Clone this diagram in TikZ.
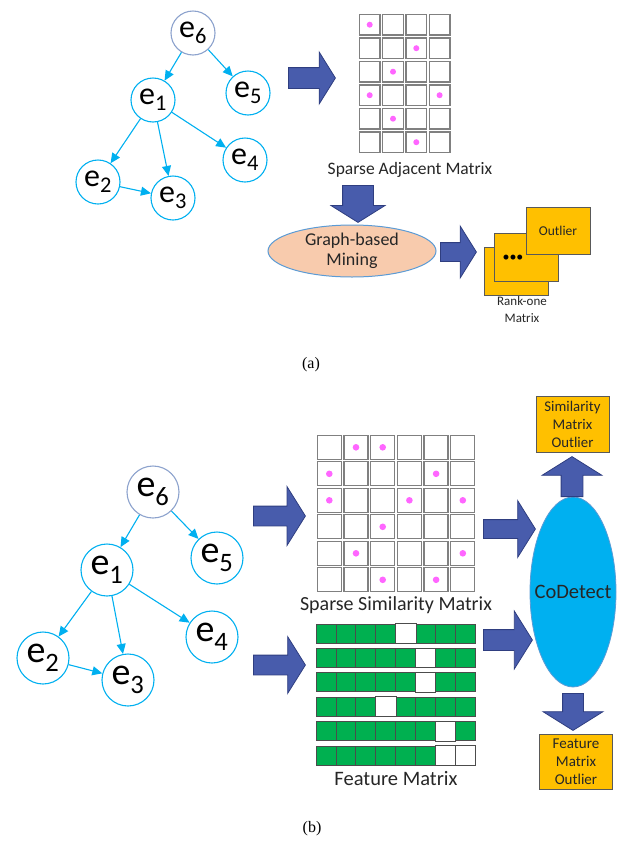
\documentclass[tikz,border=0pt]{standalone}
\usepackage{fontspec}
\setmainfont{Carlito}
\newfontfamily\capfont{Liberation Serif}
\usetikzlibrary{arrows.meta}
\usetikzlibrary{shapes.arrows}
\usetikzlibrary{shapes.geometric}
\definecolor{treecyan}{RGB}{0,176,240}
\definecolor{rootring}{RGB}{140,162,205}
\definecolor{bigblue}{RGB}{72,92,172}
\definecolor{bigedge}{RGB}{47,62,128}
\definecolor{dotpink}{RGB}{255,102,255}
\definecolor{gold}{RGB}{255,192,0}
\definecolor{peach}{RGB}{248,203,173}
\definecolor{ringblue}{RGB}{91,155,213}
\definecolor{featgreen}{RGB}{0,176,80}
\definecolor{textgray}{RGB}{38,38,38}
\newcommand{\ev}[1]{e\textsubscript{#1}}
\tikzset{
vertex/.style={shape=circle, draw=treecyan, line width=1.1pt, fill=white, inner sep=0pt},
small vertex/.style={vertex, minimum size=44, font=\fontsize{32}{34}\selectfont},
big vertex/.style={vertex, minimum size=52, font=\fontsize{38}{40}\selectfont},
edge/.style={draw=treecyan, line width=1.1pt, -{Triangle[length=10pt,width=9pt]}},
blockarrow/.style={single arrow, draw=bigedge, fill=bigblue, line width=0.8pt,
    inner xsep=0pt, single arrow tip angle=116, anchor=tail},
downarrow/.style={blockarrow, inner ysep=0pt, shape border rotate=270},
uparrow/.style={blockarrow, inner ysep=0pt, shape border rotate=90},
cell/.style={shape=rectangle, draw=gray, line width=1.3pt, fill=white, inner sep=0pt},
fcell/.style={shape=rectangle, draw=gray!60!black, line width=0.8pt, fill=featgreen,
    inner sep=0pt, minimum width=19.9, minimum height=19},
goldbox/.style={shape=rectangle, draw=gray!70!black, line width=0.9pt, fill=gold,
    inner sep=1pt, align=center, text=textgray},
caption/.style={text=textgray}}

\begin{document}
\begin{tikzpicture}[x=1pt, y=-1pt]
\useasboundingbox (0,0) rectangle (624,844);

    % (a): tree, adjacency matrix and graph-based mining
    \node[small vertex, draw=rootring] (a6) at (193,33) {\ev{6}};
    \node[small vertex] (a5) at (248,93) {\ev{5}};
    \node[small vertex] (a1) at (153,100) {\ev{1}};
    \node[small vertex] (a4) at (245,160) {\ev{4}};
    \node[small vertex] (a2) at (98,182) {\ev{2}};
    \node[small vertex] (a3) at (173,198) {\ev{3}};

    \draw[edge] (a6) -- (a1);
    \draw[edge] (a6) -- (a5);
    \draw[edge] (a1) -- (a2);
    \draw[edge] (a1) -- (a3);
    \draw[edge] (a1) -- (a4);
    \draw[edge] (a2) -- (a3);

    \node[blockarrow, minimum height=47, inner ysep=10, single arrow head extend=15.5] (ar1) at (288,78) {};

    \foreach \r in {1,...,6}
        \foreach \c in {1,...,4}
            \node[cell, minimum size=20.5] (sa-\r-\c) at ({369.7+23.3*(\c-1)},{24.7+23.5*(\r-1)}) {};
    \foreach \r/\c in {1/1,2/3,3/2,4/1,4/4,5/2,6/3}
        \fill[dotpink] (sa-\r-\c) circle (3pt);
    \node[caption, font=\fontsize{17.5}{19}\selectfont] (salab) at (410,170) {Sparse Adjacent Matrix};

    \node[downarrow, minimum height=37, inner xsep=15, single arrow head extend=11.5] (ar2) at (358,185) {};
    \node[ellipse, draw=ringblue, line width=1pt, fill=peach, minimum width=168, minimum height=52,
        inner sep=0pt, align=center, font=\fontsize{18}{20}\selectfont, text=textgray] (gm) at (352,251) {Graph-based\\Mining};
    \node[blockarrow, minimum height=36, inner ysep=9, single arrow head extend=16.5] (ar3) at (440,252) {};

    \node[goldbox, minimum width=64, minimum height=48] (rk1) at (516,271) {};
    \node[goldbox, minimum width=64, minimum height=48] (rk2) at (526,257) {};
    \node[goldbox, minimum width=64, minimum height=47, font=\fontsize{13.5}{15}\selectfont] (rk3) at (558,230.5) {Outlier};
    \node[inner sep=0pt] (ellip) at (513,258) {\fontsize{14}{14}\selectfont\textbullet\textbullet\textbullet};
    \node[align=center, text=textgray, font=\fontsize{13}{17}\selectfont] (rklab) at (522,310) {Rank-one\\Matrix};

    \node[font=\capfont\fontsize{16}{18}\selectfont] (capa) at (311,365) {(a)};

    % (b): tree, similarity and feature matrices, CoDetect
    \node[big vertex, draw=rootring] (b6) at (153,492) {\ev{6}};
    \node[big vertex] (b5) at (217,558) {\ev{5}};
    \node[big vertex] (b1) at (107,570) {\ev{1}};
    \node[big vertex] (b4) at (212,637) {\ev{4}};
    \node[big vertex] (b2) at (43,658) {\ev{2}};
    \node[big vertex] (b3) at (128,680) {\ev{3}};

    \draw[edge] (b6) -- (b1);
    \draw[edge] (b6) -- (b5);
    \draw[edge] (b1) -- (b2);
    \draw[edge] (b1) -- (b3);
    \draw[edge] (b1) -- (b4);
    \draw[edge] (b2) -- (b3);

    \node[blockarrow, minimum height=52, inner ysep=9.5, single arrow head extend=19.5] (br1) at (253,516) {};
    \node[blockarrow, minimum height=52, inner ysep=9.5, single arrow head extend=18.5] (br2) at (253,665) {};

    \foreach \r in {1,...,6}
        \foreach \c in {1,...,6}
            \node[cell, minimum size=24] (ss-\r-\c) at ({329.3+26.7*(\c-1)},{447.3+26.5*(\r-1)}) {};
    \foreach \r/\c in {1/2,1/3,2/1,2/5,3/1,3/4,3/6,4/3,5/2,5/6,6/3,6/5}
        \fill[dotpink] (ss-\r-\c) circle (3.3pt);
    \node[caption, font=\fontsize{20}{22}\selectfont] (sslab) at (396,605) {Sparse Similarity Matrix};

    \foreach \r in {1,...,6}
        \foreach \c in {1,...,8}
            \node[fcell] (fm-\r-\c) at ({326+19.9*(\c-1)},{633.5+24.4*(\r-1)}) {};
    \foreach \r/\c in {1/5,2/6,3/6,4/4,5/7,6/7,6/8}
        \draw[gray!60!black, line width=0.8pt, fill=white] (fm-\r-\c.south west) rectangle (fm-\r-\c.north east);
    \node[caption, font=\fontsize{20.5}{22}\selectfont] (fmlab) at (396,779) {Feature Matrix};

    \node[blockarrow, minimum height=52, inner ysep=9, single arrow head extend=19] (br3) at (483,529) {};
    \node[blockarrow, minimum height=49, inner ysep=10, single arrow head extend=18.5] (br4) at (483,640) {};

    \node[ellipse, draw=ringblue, line width=0.8pt, fill=treecyan, minimum width=86, minimum height=190,
        inner sep=0pt, label={[font=\fontsize{20.5}{22}\selectfont, text=black!85]center:CoDetect}] (cod) at (573,592) {};

    \node[uparrow, minimum height=40, inner xsep=10.5, single arrow head extend=19] (br5) at (572,497) {};
    \node[downarrow, minimum height=37, inner xsep=10, single arrow head extend=19.5] (br6) at (573,693) {};

    \node[goldbox, minimum width=73, minimum height=56, font=\fontsize{14.8}{18}\selectfont] (simout) at (572.5,424) {Similarity\\Matrix\\Outlier};
    \node[goldbox, minimum width=73, minimum height=55, font=\fontsize{15}{18}\selectfont] (featout) at (576,762) {Feature\\Matrix\\Outlier};

    \node[font=\capfont\fontsize{16}{18}\selectfont] (capb) at (312,829) {(b)};

\end{tikzpicture}
\end{document}
